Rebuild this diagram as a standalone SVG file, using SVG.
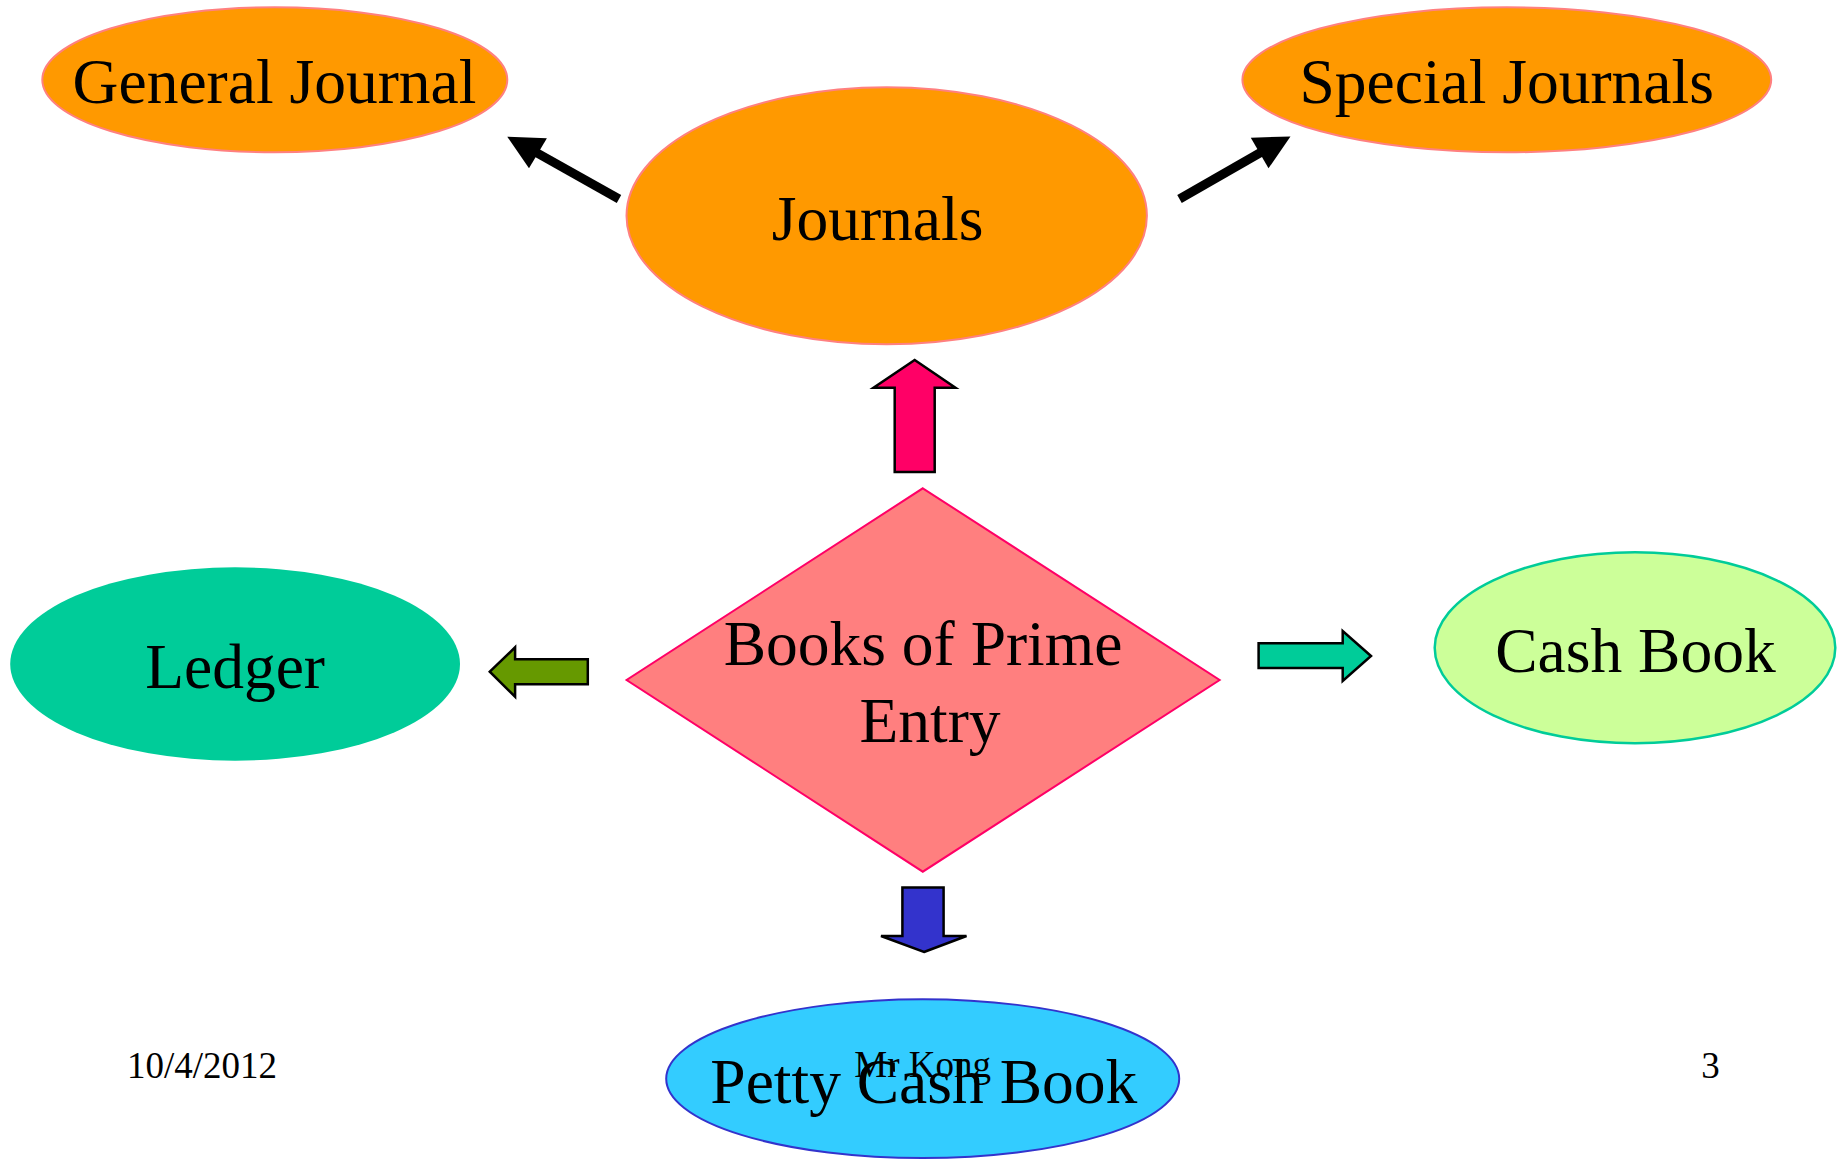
<svg xmlns="http://www.w3.org/2000/svg" width="1841" height="1160" viewBox="0 0 1841 1160">
  <style>
    .label { font-family: "Liberation Serif", "Times New Roman", serif; font-size: 63.5px; fill: #000; text-anchor: middle; }
    .foot { font-family: "Liberation Serif", "Times New Roman", serif; font-size: 37px; fill: #000; text-anchor: middle; }
    .orange { fill: #FF9900; stroke: #FF8080; stroke-width: 2; }
    .block { stroke: #000; stroke-width: 2.5; stroke-linejoin: miter; }
    .thick { stroke: #000; stroke-width: 9; fill: none; }
    .head { fill: #000; stroke: none; }
  </style>
  <rect width="1841" height="1160" fill="#FFFFFF"/>

  <!-- connectors -->
  <g id="connectors">
    <line class="thick" x1="619" y1="199" x2="536" y2="152.3"/>
    <polygon class="head" points="507.3,136.7 546.9,138.3 529,168.3"/>
    <line class="thick" x1="1179.5" y1="199" x2="1261.5" y2="152"/>
    <polygon class="head" points="1290.5,136.5 1250.8,137.7 1268.5,168.3"/>
    <polygon class="block" fill="#FF0066" points="914.7,360 955.5,387.7 934.7,387.7 934.7,472 894.7,472 894.7,387.7 873.5,387.7"/>
    <polygon class="block" fill="#669900" points="489.8,671.7 515.1,647.3 515.1,659.3 587.8,659.3 587.8,684.3 515.1,684.3 515.1,696.7"/>
    <polygon class="block" fill="#00CC99" points="1371,656 1342.7,631 1342.7,643.3 1258.6,643.3 1258.6,668 1342.7,668 1342.7,681"/>
    <polygon class="block" fill="#3333CC" points="924,952 966.5,936 943.6,936 943.6,887.5 902.4,887.5 902.4,936 881,936"/>
  </g>

  <g id="general-journal">
    <ellipse class="orange" cx="274.8" cy="79.8" rx="232.5" ry="72.5"/>
    <text class="label" x="274.5" y="103.3">General Journal</text>
  </g>

  <g id="special-journals">
    <ellipse class="orange" cx="1506.8" cy="79.8" rx="264.4" ry="72.5"/>
    <text class="label" x="1506.7" y="103.3">Special Journals</text>
  </g>

  <g id="journals">
    <ellipse class="orange" cx="886.7" cy="215.8" rx="260.2" ry="128.5"/>
    <text class="label" x="877.6" y="240">Journals</text>
  </g>

  <g id="books-of-prime-entry">
    <polygon points="922.8,488.3 1219.6,680 922.8,871.7 626.6,680" fill="#FF7F7F" stroke="#FF0066" stroke-width="2"/>
    <text class="label" x="923" y="665">Books of Prime</text>
    <text class="label" x="930" y="741.7">Entry</text>
  </g>

  <g id="ledger">
    <ellipse cx="235.1" cy="664" rx="224.9" ry="96.7" fill="#00CC99"/>
    <text class="label" x="235.1" y="687.7">Ledger</text>
  </g>

  <g id="cash-book">
    <ellipse cx="1635" cy="647.8" rx="200.3" ry="95.5" fill="#CCFF99" stroke="#00CC99" stroke-width="2.5"/>
    <text class="label" x="1635.4" y="671.7">Cash Book</text>
  </g>

  <g id="petty-cash-book">
    <ellipse cx="922.7" cy="1078.7" rx="256.5" ry="79.4" fill="#33CCFF" stroke="#3333CC" stroke-width="2"/>
    <text class="label" x="923.8" y="1103.3">Petty Cash Book</text>
  </g>

  <!-- footer -->
  <g id="footer">
    <text class="foot" x="202" y="1078.3">10/4/2012</text>
    <text class="foot" x="922.7" y="1077">Mr Kong</text>
    <text class="foot" x="1710.5" y="1078.3">3</text>
  </g>
</svg>
